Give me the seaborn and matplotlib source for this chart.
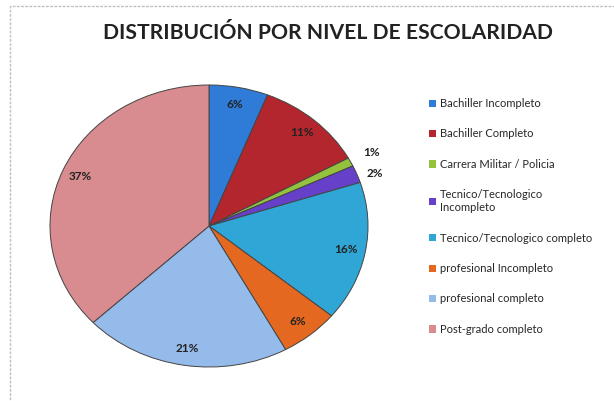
#import the required libraries
import matplotlib
matplotlib.use("Agg")
import matplotlib.pyplot as plt
import seaborn as sns
from matplotlib.patches import Rectangle, Patch

#data
categorias = ["Bachiller Incompleto", "Bachiller Completo", "Carrera Militar / Policia",
              "Tecnico/Tecnologico\nIncompleto", "Tecnico/Tecnologico completo",
              "profesional Incompleto", "profesional completo", "Post-grado completo"]
porcentajes = [6, 11, 1, 2, 16, 6, 21, 37]
colores = ["#2F7BD8", "#B3262E", "#95C23D", "#6640C8",
           "#2FA6D6", "#E4681F", "#94BBEA", "#D98C8F"]

sns.set_theme(style="white")
plt.rcParams['font.family'] = ['Lato', 'DejaVu Sans']

fig = plt.figure(figsize=(6.14, 4.01), dpi=100)
fig.patch.set_facecolor("white")

#light frame around the chart area (right and bottom edges fall outside the picture)
fig.add_artist(Rectangle((10/614, -0.05), 0.99, 1 - 6/401 + 0.05, transform=fig.transFigure,
                         fill=False, edgecolor="#c0c0c0", linewidth=1.0, linestyle=(0, (2, 1))))

fig.text(328/614, 1 - 33/401, "DISTRIBUCIÓN POR NIVEL DE ESCOLARIDAD",
         ha="center", va="center", fontsize=15.2, fontweight="bold", color="#222222")

#pie axes (the original pie is slightly stretched horizontally)
ax = fig.add_axes([50/614, 34/401, 318/614, 282/401])
wedges, textos, pcts = ax.pie(porcentajes, colors=colores, startangle=90, counterclock=False,
                              autopct="%1.0f%%", pctdistance=0.88,
                              wedgeprops=dict(edgecolor="#444444", linewidth=0.7),
                              textprops=dict(fontsize=8.5, fontweight="bold", color="#222222"))
ax.set_aspect("auto")
ax.set_xlim(-1, 1)
ax.set_ylim(-1, 1)

#small slices get their labels outside
pcts[2].set_position((0.97, 0.52))
pcts[3].set_position((0.99, 0.37))
for i in (2, 3):
    pcts[i].set_ha("left")

handles = [Patch(facecolor=c, edgecolor="none") for c in colores]
fig.legend(handles, categorias, loc="upper left", bbox_to_anchor=(419/614, 1 - 88/401),
           frameon=False, fontsize=8, handlelength=0.6, handleheight=0.6,
           handletextpad=0.4, labelspacing=1.75)

fig.savefig("out.png", dpi=100)
